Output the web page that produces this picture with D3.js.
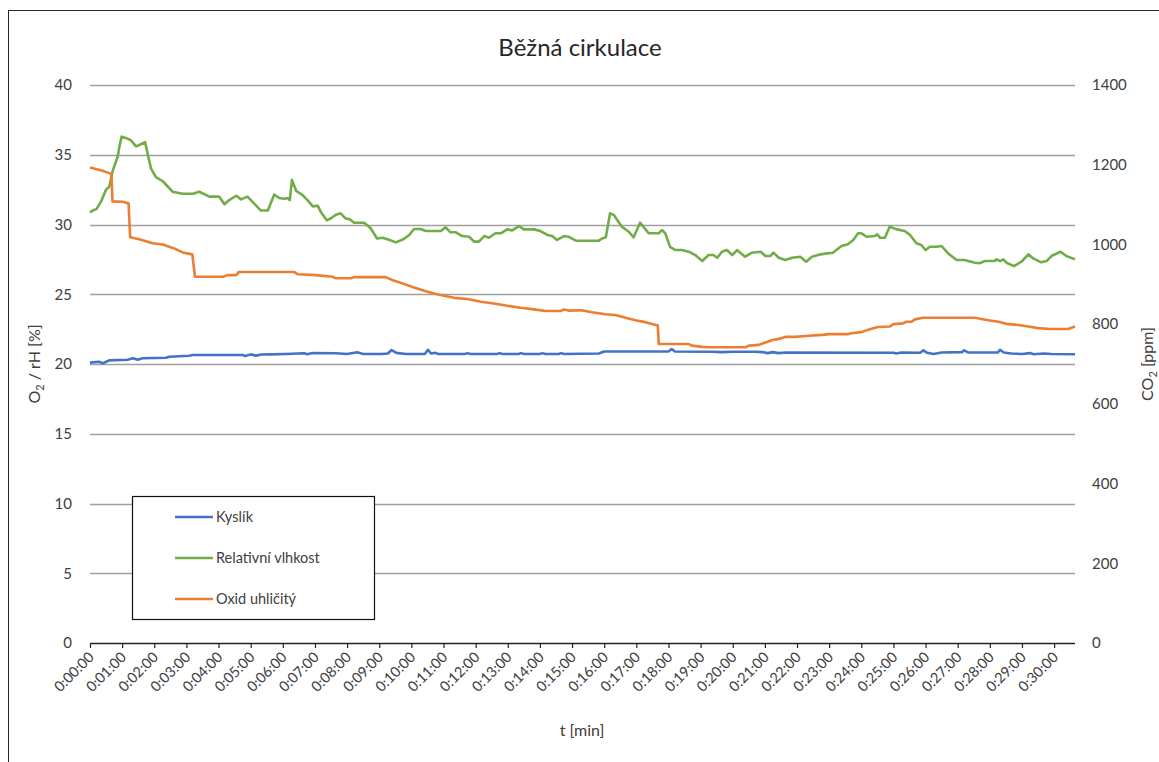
<!DOCTYPE html>
<html>
<head>
<meta charset="utf-8">
<script src="https://cdn.jsdelivr.net/npm/d3@7"></script>
<style>
  html, body { margin: 0; padding: 0; background: #fff; }
  svg { display: block; font-family: Lato, "Open Sans", sans-serif; }
</style>
</head>
<body>
<svg id="chart" width="1159" height="762"></svg>
<script>
// Measurements every few seconds over ~30 minutes: [time in s, value]
const oxygen = [
  [0,20.1],[17,20.16],[24,20.05],[30,20.16],[36,20.26],[70,20.31],[80,20.41],[89,20.3],[98,20.41],
  [142,20.45],[148,20.52],[185,20.59],[192,20.64],[285,20.64],[290,20.58],[300,20.69],[310,20.6],
  [320,20.68],[338,20.69],[366,20.72],[400,20.77],[405,20.7],[416,20.79],[459,20.77],[480,20.72],
  [499,20.84],[510,20.72],[545,20.72],[556,20.75],[563,21.0],[572,20.8],[590,20.72],[625,20.72],
  [631,21.02],[637,20.75],[645,20.8],[650,20.72],[700,20.72],[705,20.78],[710,20.72],[760,20.72],
  [765,20.78],[770,20.72],[800,20.72],[805,20.78],[810,20.72],[840,20.72],[845,20.78],[850,20.72],
  [875,20.72],[880,20.78],[885,20.72],[950,20.75],[960,20.9],[1080,20.9],[1086,21.07],[1092,20.9],
  [1160,20.88],[1180,20.85],[1200,20.88],[1240,20.88],[1257,20.85],[1265,20.78],[1275,20.85],
  [1285,20.78],[1300,20.82],[1500,20.81],[1505,20.75],[1515,20.82],[1550,20.81],[1556,20.98],
  [1563,20.8],[1575,20.72],[1590,20.82],[1628,20.85],[1632,20.98],[1640,20.82],[1695,20.82],
  [1699,21.02],[1706,20.82],[1720,20.75],[1740,20.72],[1755,20.78],[1762,20.7],[1780,20.75],
  [1795,20.72],[1839,20.7]
];

const humidity = [
  [0,30.87],[5,31.0],[12,31.1],[20,31.6],[30,32.5],[36,32.7],[42,33.8],[52,34.9],[55,35.6],[59,36.3],
  [67,36.2],[76,36.05],[86,35.6],[92,35.7],[103,35.9],[108,35.0],[114,34.0],[123,33.4],[136,33.1],
  [154,32.35],[173,32.2],[192,32.2],[204,32.35],[223,32.0],[241,32.0],[251,31.45],[260,31.75],
  [273,32.06],[282,31.8],[294,32.0],[304,31.6],[319,31.0],[332,31.0],[344,32.15],[353,31.9],
  [363,31.85],[369,31.9],[373,31.75],[377,33.2],[385,32.4],[397,32.1],[406,31.75],[416,31.3],
  [425,31.35],[431,30.9],[442,30.3],[450,30.45],[459,30.7],[468,30.8],[477,30.44],[485,30.37],
  [493,30.13],[512,30.13],[524,29.73],[536,29.0],[546,29.05],[558,28.9],[571,28.72],[586,28.96],
  [596,29.25],[605,29.68],[617,29.68],[627,29.53],[642,29.53],[655,29.53],[664,29.8],[673,29.44],
  [683,29.44],[695,29.17],[708,29.12],[717,28.77],[726,28.77],[736,29.17],[745,29.05],[757,29.37],
  [767,29.37],[779,29.65],[788,29.58],[801,29.89],[810,29.65],[829,29.65],[841,29.53],[854,29.25],
  [863,29.17],[872,28.89],[885,29.17],[894,29.12],[907,28.84],[922,28.84],[950,28.84],[956,29.0],
  [963,29.08],[971,30.8],[978,30.68],[993,29.84],[1006,29.48],[1015,29.08],[1027,30.13],[1043,29.37],
  [1062,29.37],[1068,29.6],[1074,29.37],[1083,28.4],[1093,28.17],[1105,28.17],[1118,28.05],
  [1130,27.81],[1143,27.38],[1155,27.81],[1164,27.81],[1171,27.62],[1180,28.05],[1189,28.17],
  [1199,27.81],[1208,28.17],[1223,27.69],[1236,27.98],[1252,28.05],[1261,27.74],[1270,27.74],
  [1276,27.98],[1286,27.62],[1298,27.45],[1311,27.62],[1326,27.69],[1337,27.33],[1348,27.69],
  [1364,27.86],[1376,27.93],[1387,27.98],[1403,28.46],[1415,28.58],[1425,28.89],[1434,29.37],
  [1440,29.37],[1450,29.12],[1465,29.17],[1470,29.3],[1475,29.05],[1484,29.05],[1493,29.84],
  [1506,29.65],[1521,29.53],[1531,29.25],[1543,28.65],[1552,28.53],[1560,28.17],[1568,28.41],
  [1580,28.41],[1590,28.46],[1602,27.93],[1618,27.45],[1633,27.45],[1652,27.26],[1661,27.22],
  [1671,27.38],[1689,27.38],[1692,27.5],[1699,27.38],[1705,27.5],[1711,27.26],[1725,27.02],
  [1739,27.33],[1752,27.86],[1761,27.57],[1776,27.29],[1786,27.38],[1795,27.74],[1812,28.05],
  [1823,27.74],[1839,27.5]
];

const carbonDioxide = [
  [0,1193],[20,1186],[40,1177],[42,1108],[61,1107],[72,1103],[75,1018],[92,1013],[117,1003],
  [136,1000],[157,990],[173,980],[191,975],[196,919],[248,919],[257,923],[273,923],[278,931],
  [381,931],[388,925],[422,923],[453,919],[459,915],[487,915],[493,918],[552,918],[564,911],
  [586,901],[605,892],[624,884],[642,877],[661,871],[680,866],[705,863],[730,856],[754,852],
  [779,846],[804,841],[829,837],[851,833],[879,833],[885,837],[894,834],[918,835],[937,830],
  [962,825],[981,823],[1000,816],[1018,810],[1037,805],[1056,798],[1060,797],[1062,750],
  [1118,750],[1124,746],[1143,743],[1155,742],[1224,742],[1230,746],[1249,748],[1261,754],
  [1274,760],[1286,763],[1298,768],[1317,768],[1342,771],[1367,773],[1380,775],[1416,775],
  [1422,777],[1440,780],[1456,787],[1471,793],[1493,794],[1500,800],[1518,802],[1524,806],
  [1534,806],[1540,812],[1555,816],[1652,816],[1677,810],[1696,806],[1714,800],[1733,798],
  [1752,794],[1770,790],[1792,788],[1826,788],[1839,794]
];

const leftTicks = [0, 5, 10, 15, 20, 25, 30, 35, 40];
const rightTicks = [0, 200, 400, 600, 800, 1000, 1200, 1400];
const timeTicks = d3.range(0, 1801, 60);   // one label per minute

const seriesNames = ["Kyslík", "Relativní vlhkost", "Oxid uhličitý"];
const seriesColors = ["#4472C4", "#70AD47", "#ED7D31"];

const svg = d3.select("#chart");
const plot = { left: 90, right: 1075, top: 85, bottom: 643 };

const x = d3.scaleLinear().domain([0, 1839]).range([plot.left, plot.right]);
const yL = d3.scaleLinear().domain([0, 40]).range([plot.bottom, plot.top]);
const yR = d3.scaleLinear().domain([0, 1400]).range([plot.bottom, plot.top]);

const fmtTime = s => {
  const h = Math.floor(s / 3600), m = Math.floor((s % 3600) / 60), sec = s % 60;
  return `${h}:${String(m).padStart(2, "0")}:${String(sec).padStart(2, "0")}`;
};

const textColor = "#404040";

// chart frame
svg.append("rect")
  .attr("x", 8.5).attr("y", 10.5).attr("width", 1300).attr("height", 900)
  .attr("fill", "#fff").attr("stroke", "#262626").attr("stroke-width", 1);

// title
svg.append("text")
  .attr("x", 580).attr("y", 56).attr("text-anchor", "middle")
  .attr("font-size", 24).attr("fill", "#262626")
  .text("Běžná cirkulace");

// horizontal gridlines
svg.append("g")
  .selectAll("line").data(leftTicks.filter(d => d > 0)).join("line")
  .attr("x1", plot.left).attr("x2", plot.right)
  .attr("y1", d => Math.round(yL(d)) + 0.5).attr("y2", d => Math.round(yL(d)) + 0.5)
  .attr("stroke", "#a0a0a0").attr("stroke-width", 1.3);

// left axis
const gL = svg.append("g").attr("transform", `translate(${plot.left},0)`)
  .call(d3.axisLeft(yL).tickValues(leftTicks).tickSize(0).tickPadding(18));
gL.select(".domain").remove();
gL.selectAll("text").attr("font-size", 15).attr("fill", textColor).attr("font-family", "Lato, sans-serif");

// right axis
const gR = svg.append("g").attr("transform", `translate(${plot.right},0)`)
  .call(d3.axisRight(yR).tickValues(rightTicks).tickFormat(d3.format("d")).tickSize(0).tickPadding(17));
gR.select(".domain").remove();
gR.selectAll("text").attr("font-size", 15).attr("fill", textColor).attr("font-family", "Lato, sans-serif");

// bottom time axis
const gX = svg.append("g").attr("transform", `translate(0,${plot.bottom})`)
  .call(d3.axisBottom(x).tickValues(timeTicks).tickSize(5).tickFormat(""));
gX.select(".domain").attr("d", `M${plot.left},0.5H${plot.right}`).attr("stroke", "#222").attr("stroke-width", 1.3);
gX.selectAll(".tick line").attr("stroke", "#222").attr("stroke-width", 1.2);

svg.append("g").selectAll("text").data(timeTicks).join("text")
  .attr("transform", d => `translate(${x(d) + 5},${plot.bottom + 15}) rotate(-45)`)
  .attr("text-anchor", "end")
  .attr("font-size", 14.5).attr("fill", textColor)
  .text(fmtTime);

// axis titles
svg.append("text")
  .attr("x", 582).attr("y", 736).attr("text-anchor", "middle")
  .attr("font-size", 16).attr("fill", textColor)
  .text("t [min]");

const tl = svg.append("text")
  .attr("transform", `translate(40,${(plot.top + plot.bottom) / 2}) rotate(-90)`)
  .attr("text-anchor", "middle").attr("font-size", 16).attr("fill", textColor);
tl.append("tspan").text("O");
tl.append("tspan").attr("font-size", 11).attr("dy", 4).text("2");
tl.append("tspan").attr("dy", -4).text(" / rH [%]");

const tr = svg.append("text")
  .attr("transform", `translate(1153,${(plot.top + plot.bottom) / 2}) rotate(-90)`)
  .attr("text-anchor", "middle").attr("font-size", 16).attr("fill", textColor);
tr.append("tspan").text("CO");
tr.append("tspan").attr("font-size", 11).attr("dy", 4).text("2");
tr.append("tspan").attr("dy", -4).text(" [ppm]");

// series lines
const lineL = d3.line().x(d => x(d[0])).y(d => yL(d[1]));
const lineR = d3.line().x(d => x(d[0])).y(d => yR(d[1]));

const series = [
  { data: oxygen, line: lineL, color: seriesColors[0] },
  { data: humidity, line: lineL, color: seriesColors[1] },
  { data: carbonDioxide, line: lineR, color: seriesColors[2] }
];

svg.append("g").selectAll("path").data(series).join("path")
  .attr("d", s => s.line(s.data))
  .attr("fill", "none")
  .attr("stroke", s => s.color)
  .attr("stroke-width", 2.6)
  .attr("stroke-linejoin", "round");

// legend
const lg = svg.append("g");
lg.append("rect")
  .attr("x", 132.5).attr("y", 496.5).attr("width", 242).attr("height", 123)
  .attr("fill", "#fff").attr("stroke", "#111").attr("stroke-width", 1.2);
const rows = lg.selectAll("g.row").data(seriesNames).join("g")
  .attr("transform", (d, i) => `translate(0,${517 + i * 41})`);
rows.append("line")
  .attr("x1", 175).attr("x2", 213).attr("y1", 0).attr("y2", 0)
  .attr("stroke", (d, i) => seriesColors[i]).attr("stroke-width", 2.6);
rows.append("text")
  .attr("x", 216).attr("y", 5)
  .attr("font-size", 14.5).attr("fill", textColor)
  .text(d => d);
</script>
</body>
</html>
